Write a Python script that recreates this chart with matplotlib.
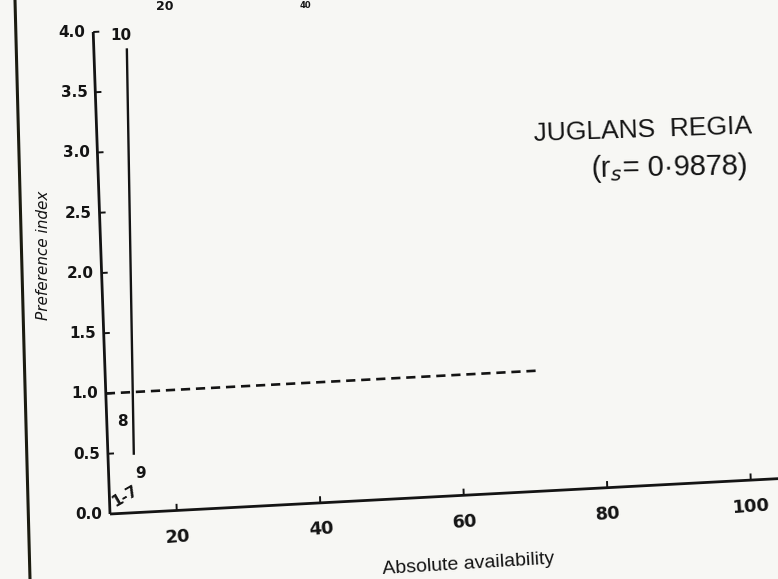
"""Preference index of Juglans regia against absolute availability."""

import numpy as np
import matplotlib.pyplot as plt
from matplotlib.lines import Line2D
from matplotlib.transforms import Affine2D

# preference index curve (points 9 -> 10 sit almost on one availability value)
avail = [14.3, 15.3]
pref = [0.48, 3.85]

# no-preference reference (index = 1)
ref_avail = [10.7, 71.0]
ref_pref = [1.0, 1.0]

point_labels = ["10", "8", "9", "1-7"]
label_avail = [14.6, 12.9, 15.2, 12.8]
label_pref = [3.96, 0.76, 0.32, 0.14]
label_rot = [0, 0, 0, 30]

x_ticks = [20, 40, 60, 80, 100]
x_tick_labels = ["20", "40", "60", "80", "100"]
y_ticks = [0.0, 0.5, 1.0, 1.5, 2.0, 2.5, 3.0, 3.5, 4.0]
y_tick_labels = ["0.0", "0.5", "1.0", "1.5", "2.0", "2.5", "3.0", "3.5", "4.0"]

species = "JUGLANS  REGIA"
corr = "(r$_s$= 0·9878)"

PAPER = "#f7f7f4"
INK = "#141414"
X0, X1 = 10.7, 103.8

fig = plt.figure(figsize=(7.78, 5.79), dpi=100, facecolor=PAPER)
ax = fig.add_axes([110 / 778, 65 / 579, 668 / 778, 482 / 579])
ax.set_xlim(X0, X1)
ax.set_ylim(0, 4)
ax.set_axis_off()

# the sheet is not square: y axis leans left, x axis climbs to the right
k1, k2 = -0.585, 0.00315
skew = Affine2D(np.array([[1.0, k1, 0.0], [k2, 1.0, -k2 * X0], [0.0, 0.0, 1.0]]))
tr = skew + ax.transData

line_kw = dict(color=INK, transform=tr, clip_on=False, solid_capstyle="butt")

# axes
ax.plot([X0, X1 + 2], [0, 0], lw=2.0, **line_kw)
ax.plot([X0, X0], [0, 4.0], lw=2.0, **line_kw)
for t in x_ticks:
    ax.plot([t, t], [0, 0.055], lw=1.4, **line_kw)
for t in y_ticks[1:]:
    ax.plot([X0, X0 + 0.85], [t, t], lw=1.4, **line_kw)

for t, lab in zip(x_ticks, x_tick_labels):
    ax.text(t, -0.22, lab, transform=tr, ha="center", va="center", rotation=4,
            fontsize=13, fontweight="bold", color=INK, clip_on=False)
for t, lab in zip(y_ticks, y_tick_labels):
    ax.text(X0 - 1.1, t, lab, transform=tr, ha="right", va="center",
            fontsize=11, fontweight="bold", color=INK, clip_on=False)

ax.text(60.3, -0.57, "Absolute availability", transform=tr, ha="center", va="center",
        rotation=3.5, fontsize=14, family="Liberation Sans", color=INK, clip_on=False)
fig.text(43 / 778, 1 - 255 / 579, "Preference index", rotation=90, ha="center", va="center",
         fontsize=11, style="italic", color=INK)

# data
ax.plot(avail, pref, lw=1.7, **line_kw)
ax.plot(ref_avail, ref_pref, lw=1.9, ls=(0, (3.5, 2.2)), color=INK, transform=tr,
        clip_on=False)

for lab, x, y, r in zip(point_labels, label_avail, label_pref, label_rot):
    ax.text(x, y, lab, transform=tr, ha="center", va="center", rotation=r,
            fontsize=11, fontweight="bold", color=INK, clip_on=False)

fig.text(643 / 778, 1 - 130 / 579, species, ha="center", va="center", rotation=2,
         fontsize=19, family="Liberation Sans", color=INK)
fig.text(669 / 778, 1 - 168 / 579, corr, ha="center", va="center", rotation=1,
         fontsize=21, family="Liberation Sans", color=INK)

# tick numbers of the panel above, along the top edge
fig.text(165 / 778, 1 - 0.5 / 579, "20", ha="center", va="top",
         fontsize=9, fontweight="bold", color=INK)
fig.text(305 / 778, 1 - 0.5 / 579, "40", ha="center", va="top",
         fontsize=6, fontweight="bold", color=INK)

# binding edge down the left side
fig.add_artist(Line2D([15 / 778, 30 / 778], [1, 0], transform=fig.transFigure,
                      color="#1c1c10", lw=2.2))

fig.savefig("out.png", dpi=100, facecolor=PAPER)
